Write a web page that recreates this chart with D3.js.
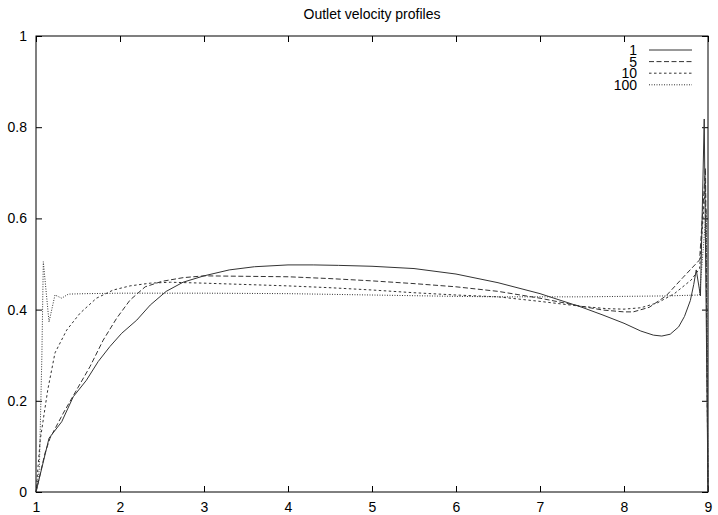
<!DOCTYPE html>
<html>
<head>
<meta charset="utf-8">
<script src="https://cdn.jsdelivr.net/npm/d3@7"></script>
<style>
  body { margin: 0; background: #fff; }
  text { font-family: "Liberation Sans", Arial, sans-serif; font-size: 14px; fill: #000; }
</style>
</head>
<body>
<div id="chart"></div>
<script>
// Outlet velocity profiles
const seriesNames = ["1", "5", "10", "100"];

const x1 = [1, 1.155, 1.306, 1.444, 1.6, 1.74, 1.88, 2.02, 2.2, 2.36, 2.55, 2.75, 3.0, 3.3, 3.6, 4.0, 4.3, 4.6, 5.0, 5.5, 6.0, 6.5, 7.0, 7.25, 7.5, 7.75, 8.0, 8.2, 8.35, 8.45, 8.55, 8.65, 8.72, 8.79, 8.83, 8.86, 8.91, 8.955, 9.0];
const y1 = [0, 0.118, 0.154, 0.209, 0.245, 0.286, 0.319, 0.348, 0.377, 0.410, 0.440, 0.460, 0.474, 0.487, 0.494, 0.498, 0.498, 0.497, 0.495, 0.490, 0.478, 0.459, 0.435, 0.420, 0.405, 0.388, 0.370, 0.353, 0.344, 0.342, 0.346, 0.362, 0.385, 0.420, 0.455, 0.487, 0.430, 0.818, 0];

const x5 = [1, 1.107, 1.167, 1.325, 1.484, 1.643, 1.80, 1.96, 2.12, 2.30, 2.5, 2.75, 3.0, 3.5, 4.0, 4.5, 5.0, 5.5, 6.0, 6.5, 7.0, 7.25, 7.5, 7.75, 8.0, 8.11, 8.3, 8.5, 8.7, 8.9, 8.97, 9.0];
const y5 = [0, 0.085, 0.118, 0.173, 0.224, 0.275, 0.333, 0.381, 0.421, 0.450, 0.462, 0.470, 0.474, 0.473, 0.472, 0.468, 0.463, 0.457, 0.450, 0.440, 0.425, 0.416, 0.407, 0.399, 0.395, 0.395, 0.405, 0.430, 0.470, 0.509, 0.710, 0];

const x10 = [1, 1.05, 1.14, 1.226, 1.365, 1.524, 1.72, 1.92, 2.12, 2.36, 2.6, 3.0, 3.5, 4.0, 4.5, 5.0, 5.5, 6.0, 6.5, 7.0, 7.5, 7.8, 8.0, 8.2, 8.4, 8.6, 8.8, 8.9, 8.97, 9.0];
const y10 = [0, 0.114, 0.224, 0.305, 0.355, 0.392, 0.425, 0.443, 0.452, 0.458, 0.460, 0.458, 0.455, 0.452, 0.448, 0.443, 0.437, 0.432, 0.428, 0.418, 0.407, 0.402, 0.401, 0.404, 0.415, 0.435, 0.465, 0.490, 0.680, 0];

const x100 = [1, 1.04, 1.07, 1.087, 1.155, 1.226, 1.306, 1.385, 1.6, 2, 3, 4, 5, 6, 6.5, 7, 7.5, 8, 8.5, 8.9, 8.98, 9.0];
const y100 = [0, 0.05, 0.30, 0.505, 0.373, 0.432, 0.425, 0.434, 0.435, 0.436, 0.436, 0.435, 0.432, 0.429, 0.428, 0.428, 0.428, 0.429, 0.430, 0.432, 0.620, 0];

const xTicks = [1, 2, 3, 4, 5, 6, 7, 8, 9];
const yTicks = [0, 0.2, 0.4, 0.6, 0.8, 1];

const series = [
    { name: seriesNames[0], xs: x1, ys: y1, dash: null },
    { name: seriesNames[1], xs: x5, ys: y5, dash: "5,2.5" },
    { name: seriesNames[2], xs: x10, ys: y10, dash: "2.5,2.5" },
    { name: seriesNames[3], xs: x100, ys: y100, dash: "1,1.5" }
];

const margin = { top: 36, right: 10, bottom: 23, left: 36 },
    width = 718 - margin.left - margin.right,
    height = 515 - margin.top - margin.bottom;

const svg = d3.select("#chart").append("svg")
    .attr("width", 718)
    .attr("height", 515)
    .append("g")
    .attr("transform", "translate(" + margin.left + "," + margin.top + ")");

const x = d3.scaleLinear().domain([1, 9]).range([0, width]);
const y = d3.scaleLinear().domain([0, 1]).range([height, 0]);

// axes with inward ticks on all four sides
const tick = 6;
svg.append("g")
    .attr("transform", "translate(0," + height + ")")
    .call(d3.axisBottom(x).tickValues(xTicks).tickFormat(d3.format("d")).tickSizeInner(-tick).tickSizeOuter(0).tickPadding(10))
    .call(g => g.select(".domain").remove());
svg.append("g")
    .call(d3.axisTop(x).tickValues(xTicks).tickFormat("").tickSizeInner(-tick).tickSizeOuter(0))
    .call(g => g.select(".domain").remove());
svg.append("g")
    .call(d3.axisLeft(y).tickValues(yTicks).tickFormat(d3.format("~g")).tickSizeInner(-tick).tickSizeOuter(0).tickPadding(9))
    .call(g => g.select(".domain").remove());
svg.append("g")
    .attr("transform", "translate(" + width + ",0)")
    .call(d3.axisRight(y).tickValues(yTicks).tickFormat("").tickSizeInner(-tick).tickSizeOuter(0))
    .call(g => g.select(".domain").remove());

svg.selectAll(".tick text")
    .style("font-family", "'Liberation Sans', Arial, sans-serif")
    .style("font-size", "14px")
    .attr("fill", "#000");
svg.selectAll(".tick line").attr("stroke", "#000");

svg.append("rect")
    .attr("x", 0).attr("y", 0)
    .attr("width", width).attr("height", height)
    .attr("fill", "none")
    .attr("stroke", "#000")
    .attr("stroke-width", 1);

// curves
const line = d3.line()
    .x(d => x(d[0]))
    .y(d => y(d[1]));

series.forEach(s => {
    const pts = s.xs.map((v, i) => [v, s.ys[i]]);
    svg.append("path")
        .datum(pts)
        .attr("fill", "none")
        .attr("stroke", "#333")
        .attr("stroke-width", 1)
        .attr("stroke-dasharray", s.dash)
        .attr("d", line);
});

// legend
const legend = svg.append("g").attr("transform", "translate(" + (width - 71) + ",19)");
series.forEach((s, i) => {
    const gy = i * 11.6;
    legend.append("text")
        .attr("x", 0)
        .attr("y", gy)
        .attr("text-anchor", "end")
        .text(s.name);
    legend.append("line")
        .attr("x1", 12).attr("x2", 55)
        .attr("y1", gy - 5).attr("y2", gy - 5)
        .attr("stroke", "#333")
        .attr("stroke-width", 1)
        .attr("stroke-dasharray", s.dash);
});

// title
svg.append("text")
    .attr("x", width / 2)
    .attr("y", -17)
    .attr("text-anchor", "middle")
    .text("Outlet velocity profiles");
</script>
</body>
</html>
